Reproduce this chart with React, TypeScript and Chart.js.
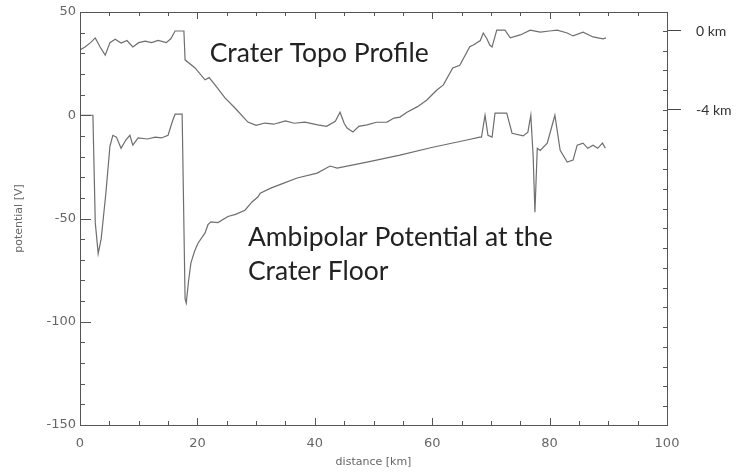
import React, { useEffect, useRef } from "react";
import { Chart, registerables } from "chart.js";

Chart.register(...registerables);

// Crater topography profile (distance in km, height in km)
const topoX = [0, 0.85, 1.8, 2.6, 3.4, 4.3, 5.1, 6.0, 7.0, 8.0, 9.0, 10.0, 11.1, 12.2, 13.3, 14.7, 15.5, 16.2, 17.7, 17.9, 19.6, 21.3, 22.0, 23.0, 24.7, 26.4, 28.6, 30.0, 31.5, 33.0, 35.0, 36.5, 38.3, 40.5, 42.0, 43.5, 44.3, 45.0, 45.5, 46.5, 47.5, 48.9, 50.5, 52.3, 53.5, 54.5, 55.7, 57.5, 59.1, 60.8, 61.9, 63.5, 64.7, 66.4, 67.0, 68.2, 68.7, 69.3, 69.8, 70.2, 71.0, 72.4, 73.3, 75.0, 76.7, 78.4, 80.0, 81.3, 83.0, 84.0, 85.7, 87.4, 89.1, 89.6];
const topoKm = [-0.96, -0.81, -0.59, -0.35, -0.80, -1.22, -0.59, -0.42, -0.61, -0.48, -0.81, -0.59, -0.51, -0.59, -0.48, -0.59, -0.38, 0.0, 0.0, -1.46, -1.87, -2.47, -2.36, -2.73, -3.39, -3.90, -4.61, -4.78, -4.66, -4.72, -4.55, -4.67, -4.61, -4.75, -4.83, -4.57, -4.11, -4.67, -4.91, -5.11, -4.83, -4.75, -4.62, -4.61, -4.41, -4.36, -4.11, -3.83, -3.49, -2.99, -2.73, -1.87, -1.74, -0.80, -0.71, -0.48, -0.10, -0.38, -0.71, -0.81, 0.04, 0.04, -0.35, -0.20, 0.04, -0.06, 0.0, 0.04, -0.10, -0.25, -0.06, -0.30, -0.40, -0.35];

// Ambipolar potential at the crater floor (distance in km, potential in V)
const potX = [0, 2.2, 2.6, 3.1, 3.6, 4.4, 5.1, 5.6, 6.2, 7.0, 7.8, 8.5, 9.0, 9.9, 11.5, 12.8, 13.9, 15.0, 15.8, 16.2, 17.4, 17.9, 18.1, 18.5, 18.9, 19.5, 20.1, 21.3, 21.8, 22.3, 23.5, 25.2, 26.5, 28.1, 29.3, 30.3, 30.7, 32.5, 34.6, 37.0, 40.4, 42.6, 43.8, 48.9, 54.5, 60.1, 65.9, 68.1, 68.4, 69.0, 69.5, 70.2, 70.7, 72.7, 73.6, 75.5, 76.3, 76.8, 77.2, 77.5, 77.9, 78.4, 79.6, 80.9, 81.8, 83.0, 84.0, 84.7, 85.7, 86.5, 87.4, 88.2, 89.0, 89.5];
const potV = [0, 0, -52, -67, -60, -38, -15, -9.7, -10.6, -16, -12, -9.7, -14.5, -11, -11.5, -10.6, -11, -9.7, -2.4, 0.5, 0.5, -89, -91, -80, -71.5, -66, -62, -57, -53, -51.6, -52, -49, -48, -46, -42, -39.6, -37.7, -35.3, -33, -30.4, -28, -24.6, -25.6, -22.7, -19.3, -15.5, -12, -10.6, -10.6, 0, -9.7, -10.6, 1, 1, -8.7, -10, -8.2, 0, -20, -47, -16, -17, -13.5, 0, -17, -22.7, -21.7, -14.5, -13.5, -16, -14.5, -16, -13.5, -16];

const rightTickKm = [0, -4];
const rightTickLabels = ["0 km", "-4 km"];

const labelTopo = "Crater Topo Profile";
const labelPot = ["Ambipolar Potential at the", "Crater Floor"];

const framePlugin = {
  id: "frame",
  afterDraw(chart: any) {
    const { ctx, chartArea: a, scales } = chart;
    const x = scales.x, y = scales.y, y2 = scales.y2;
    ctx.save();
    ctx.strokeStyle = "#555";
    ctx.lineWidth = 1;
    ctx.strokeRect(Math.round(a.left) + 0.5, Math.round(a.top) + 0.5, Math.round(a.right - a.left), Math.round(a.bottom - a.top));
    ctx.beginPath();
    for (let v = 0; v <= 100; v += 5) {
      const px = Math.round(x.getPixelForValue(v)) + 0.5;
      const len = v % 20 === 0 ? 7 : 4;
      ctx.moveTo(px, a.bottom);
      ctx.lineTo(px, a.bottom - len);
      ctx.moveTo(px, a.top);
      ctx.lineTo(px, a.top + len);
    }
    for (let v = -150; v <= 50; v += 10) {
      const py = Math.round(y.getPixelForValue(v)) + 0.5;
      const len = v % 50 === 0 ? 11 : 5;
      ctx.moveTo(a.left, py);
      ctx.lineTo(a.left + len, py);
    }
    for (let v = -19; v <= 0; v += 1) {
      const py = Math.round(y2.getPixelForValue(v)) + 0.5;
      ctx.moveTo(a.right, py);
      ctx.lineTo(a.right - 4, py);
    }
    ctx.stroke();

    // right-axis labels
    ctx.fillStyle = "#333";
    ctx.font = "14px Lato, sans-serif";
    ctx.textBaseline = "middle";
    ctx.textAlign = "left";
    rightTickKm.forEach((v, i) => {
      ctx.fillText(rightTickLabels[i], a.right + 29, y2.getPixelForValue(v));
    });

    ctx.fillStyle = "#222";
    ctx.textBaseline = "alphabetic";
    ctx.font = "26.5px Lato, 'Open Sans', sans-serif";
    ctx.fillText(labelTopo, x.getPixelForValue(22.1), y.getPixelForValue(25.6));
    ctx.fillText(labelPot[0], x.getPixelForValue(28.6), y.getPixelForValue(-63.3));
    ctx.fillText(labelPot[1], x.getPixelForValue(28.6), y.getPixelForValue(-79.7));
    ctx.restore();
  },
};

export default function App() {
  const ref = useRef<HTMLCanvasElement>(null);
  useEffect(() => {
    document.body.style.margin = "0";
    const tickFont = { family: "'DejaVu Sans', sans-serif", size: 13 };
    const titleFont = { family: "'DejaVu Sans', sans-serif", size: 11 };
    const chart = new Chart(ref.current!, {
      type: "line",
      data: {
        datasets: [
          {
            label: "topo",
            data: topoX.map((v, i) => ({ x: v, y: topoKm[i] })),
            yAxisID: "y2",
            borderColor: "#6e6e6e",
            borderWidth: 1.2,
            pointRadius: 0,
            tension: 0,
          },
          {
            label: "potential",
            data: potX.map((v, i) => ({ x: v, y: potV[i] })),
            yAxisID: "y",
            borderColor: "#6e6e6e",
            borderWidth: 1.2,
            pointRadius: 0,
            tension: 0,
          },
        ],
      },
      options: {
        animation: false,
        responsive: true,
        maintainAspectRatio: false,
        layout: { padding: { top: 12, left: 0, right: 0, bottom: 0 } },
        plugins: { legend: { display: false }, tooltip: { enabled: false } },
        scales: {
          x: {
            type: "linear",
            min: 0,
            max: 100,
            grid: { display: false, drawTicks: false },
            border: { display: false },
            ticks: { stepSize: 20, font: tickFont, color: "#666", padding: 11, maxRotation: 0 },
            title: { display: true, text: "distance [km]", font: titleFont, color: "#666", padding: { top: 0, bottom: 4 } },
            afterFit: (s: any) => { s.height = 48; },
          },
          y: {
            type: "linear",
            position: "left",
            min: -150,
            max: 50,
            grid: { display: false, drawTicks: false },
            border: { display: false },
            ticks: { stepSize: 50, font: tickFont, color: "#666", padding: 4 },
            title: { display: true, text: "potential [V]", font: titleFont, color: "#666", padding: { top: 13, bottom: 0 } },
            afterFit: (s: any) => { s.width = 80; },
          },
          y2: {
            type: "linear",
            position: "right",
            min: -19.95,
            max: 0.962,
            grid: { display: true, drawOnChartArea: false, drawTicks: true, tickLength: 14, tickColor: "#444", tickWidth: 1 },
            border: { display: false },
            afterBuildTicks: (s: any) => { s.ticks = rightTickKm.map((v) => ({ value: v })); },
            ticks: { display: false },
            afterFit: (s: any) => { s.width = 80; },
          },
        },
      },
      plugins: [framePlugin],
    });
    return () => chart.destroy();
  }, []);
  return (
    <div style={{ position: "absolute", left: 0, top: 0, width: 747, height: 473 }}>
      <canvas ref={ref} />
    </div>
  );
}
